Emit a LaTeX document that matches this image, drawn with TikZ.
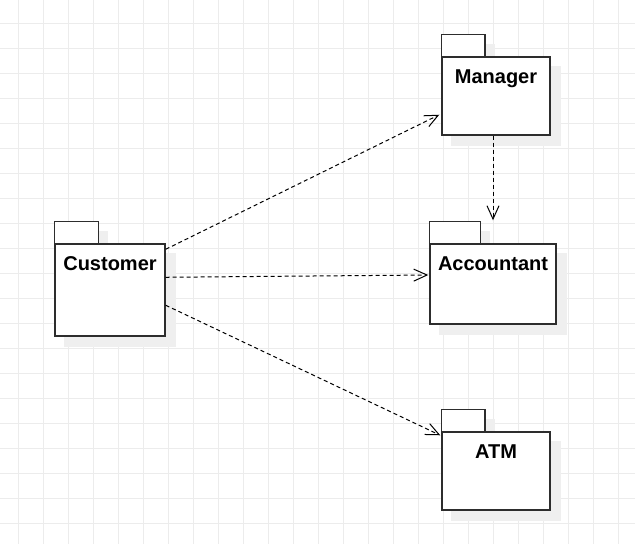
\documentclass[tikz,border=0pt]{standalone}
\usepackage{fontspec}
\setmainfont{Liberation Sans}
\usetikzlibrary{arrows.meta,calc,backgrounds}

\definecolor{gridgray}{RGB}{236,236,236}
\definecolor{shadowgray}{RGB}{239,239,239}
\definecolor{pkgline}{RGB}{45,45,45}

\tikzset{every picture/.style={line width=0.75pt}}

\begin{document}
\begin{tikzpicture}[x=0.75pt,y=0.75pt,yscale=-1,xscale=1,
    pkgbody/.style={draw=pkgline,line width=1.1pt,fill=white,inner sep=0pt},
    pkgtab/.style={draw=pkgline,line width=1.1pt,fill=white},
    pkgname/.style={anchor=base,inner sep=0.75pt,font=\fontsize{15}{18}\selectfont\bfseries},
    depline/.style={dash pattern=on 3pt off 2.25pt,line width=0.75pt,-{Straight Barb[length=10pt,width=9pt]}}]
    \useasboundingbox (0,0) rectangle (635,544);

    %Grid
    \begin{scope}[on background layer]
    \foreach \gx in {0,...,24} \draw[gridgray] (18.3+25*\gx,0) -- (18.3+25*\gx,544);
    \foreach \gy in {0,...,20} \draw[gridgray] (0,23.3+25*\gy) -- (635,23.3+25*\gy);
    \end{scope}

    %Shape: Package body
    \node[pkgbody,minimum width=82.5pt,minimum height=69pt] (cust) at (110,290) {};
    %Shape: Package body
    \node[pkgbody,minimum width=81pt,minimum height=58.5pt] (mgr) at (496,96) {};
    %Shape: Package body
    \node[pkgbody,minimum width=94.5pt,minimum height=60pt] (acc) at (493,284) {};
    %Shape: Package body
    \node[pkgbody,minimum width=81pt,minimum height=58.5pt] (atm) at (496,471) {};

    %Shape: Package tab
    \draw[pkgtab] (cust.north west) rectangle ++(44,-22);
    \draw[pkgtab] (mgr.north west) rectangle ++(43.5,-22);
    \draw[pkgtab] (acc.north west) rectangle ++(51,-22);
    \draw[pkgtab] (atm.north west) rectangle ++(43.5,-22);

    %Shadows
    \begin{scope}[on background layer]
    \foreach \p/\tw in {cust/44,mgr/43.5,acc/51,atm/43.5}{
      \fill[shadowgray] ($(\p.north west)+(10,10)$) rectangle ($(\p.south east)+(10,10)$);
      \fill[shadowgray] ($(\p.north west)+(10,-12)$) rectangle ++(\tw,22);
    }
    \end{scope}

    % Text Node
    \node[pkgname] (custlbl) at ($(cust.north)+(0,27.5)$) {Customer};
    % Text Node
    \node[pkgname] (mgrlbl) at ($(mgr.north)+(0,27.5)$) {Manager};
    % Text Node
    \node[pkgname] (acclbl) at ($(acc.north)+(0,27.5)$) {Accountant};
    % Text Node
    \node[pkgname] (atmlbl) at ($(atm.north)+(0,27.5)$) {ATM};

    %Dependencies
    \draw[depline] ($(cust.north east)+(0,6)$) -- ($(mgr.south west)+(-2,-21)$);
    \draw[depline] ($(cust.north east)+(0,34)$) -- ($(acc.west)+(-1,-9)$);
    \draw[depline] ($(cust.north east)+(0,62)$) -- ($(atm.north west)+(-1,4)$);
    \draw[depline] ($(mgr.south)+(-3,0)$) -- ($(acc.north)+(0,-23)$);

\end{tikzpicture}
\end{document}
